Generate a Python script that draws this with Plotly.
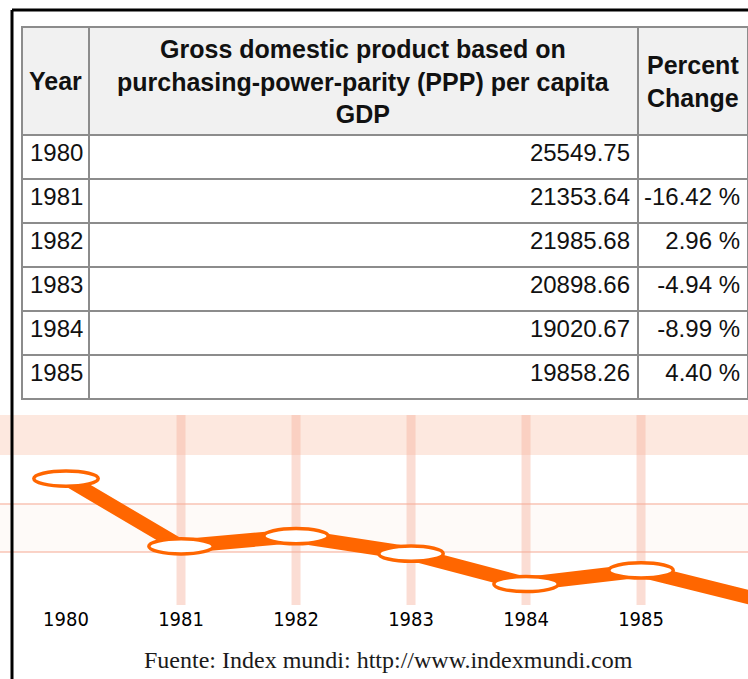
import plotly.graph_objects as go

# ---------------- data ----------------
years = [1980, 1981, 1982, 1983, 1984, 1985]
gdp_ppp = [25549.75, 21353.64, 21985.68, 20898.66, 19020.67, 19858.26]
gdp_text = ["25549.75", "21353.64", "21985.68", "20898.66", "19020.67", "19858.26"]
pct_change = ["", "-16.42\u00a0%", "2.96\u00a0%", "-4.94\u00a0%", "-8.99\u00a0%", "4.40\u00a0%"]
header_labels = [
    "<b>Year</b>",
    "<b>Gross domestic product based on<br>purchasing-power-parity (PPP) per capita<br>GDP</b>",
    "<b>Percent<br>Change</b>",
]
tick_labels = ["1980", "1981", "1982", "1983", "1984", "1985"]
# the chart line continues past the frame toward 1986
chart_years = years + [1986]
chart_values = gdp_ppp + [18090]
source_text = "Fuente: Index mundi: http://www.indexmundi.com"

# ---------------- layout constants ----------------
W, H = 748, 679
ORANGE = "#ff6600"
x_range = [1979.426, 1985.930]
y_range = [17718, 29485]
TABLE_LEFT = 22
COL_W = [67, 549, 110]
HEADER_TOP, HEADER_H = 27, 108

fig = go.Figure()

fig.add_trace(go.Table(
    domain=dict(x=[TABLE_LEFT / W, 1], y=[0.40, 1 - HEADER_TOP / H]),
    columnwidth=COL_W,
    header=dict(
        values=["", "", ""],
        fill_color="#f1f1f1",
        line=dict(color="#8c8c8c", width=1.5),
        height=HEADER_H,
    ),
    cells=dict(
        values=[[str(y) for y in years], gdp_text, pct_change],
        align=["left", "right", "right"],
        fill_color="white",
        line=dict(color="#8c8c8c", width=1.5),
        font=dict(family="Liberation Sans, Arial, sans-serif", size=24, color="#111111"),
        height=44,
    ),
))

fig.add_trace(go.Scatter(
    x=chart_years, y=chart_values, mode="lines",
    line=dict(color=ORANGE, width=14),
    hoverinfo="skip", showlegend=False,
))

shapes = []
# pale band at top of chart
shapes.append(dict(type="rect", xref="x domain", yref="y", x0=0, x1=1,
                   y0=27000, y1=y_range[1], fillcolor="rgba(252,222,210,0.7)",
                   line=dict(width=0), layer="below"))
shapes.append(dict(type="rect", xref="x domain", yref="y", x0=0, x1=1,
                   y0=21000, y1=24000, fillcolor="rgba(253,240,235,0.35)",
                   line=dict(width=0), layer="below"))
# vertical salmon bars
for yr in years[1:]:
    shapes.append(dict(type="line", xref="x", yref="y domain", x0=yr, x1=yr, y0=0, y1=1,
                       line=dict(color="rgba(247,180,160,0.45)", width=9), layer="below"))
# white ellipse markers
for yr, v in zip(years, gdp_ppp):
    shapes.append(dict(type="circle", xref="x", yref="y",
                       x0=yr - 0.28, x1=yr + 0.28, y0=v - 470, y1=v + 470,
                       fillcolor="white", line=dict(color=ORANGE, width=3.5), layer="above"))
# black frame
shapes.append(dict(type="line", xref="paper", yref="paper", x0=12 / W, x1=1,
                   y0=1 - 10 / H, y1=1 - 10 / H, line=dict(color="black", width=3)))
shapes.append(dict(type="line", xref="paper", yref="paper", x0=12 / W, x1=12 / W,
                   y0=0, y1=1 - 10 / H, line=dict(color="black", width=3)))

# header texts, each line centred in its column
annotations = []
left = TABLE_LEFT
for label, w in zip(header_labels, COL_W):
    annotations.append(dict(
        text=label, xref="paper", yref="paper",
        x=(left + w / 2) / W, y=1 - (HEADER_TOP + HEADER_H / 2) / H,
        xanchor="center", yanchor="middle", align="center", showarrow=False,
        font=dict(family="Liberation Sans, Arial, sans-serif", size=25, color="#111111"),
    ))
    left += w
annotations.append(dict(
    text=source_text, xref="paper", yref="paper", x=0.519, y=1 - 660 / H,
    showarrow=False, xanchor="center", yanchor="middle",
    font=dict(family="Liberation Serif, Times New Roman, serif", size=24, color="#1a1a1a")))

fig.update_layout(
    width=W, height=H,
    margin=dict(l=0, r=0, t=0, b=0),
    paper_bgcolor="white", plot_bgcolor="white",
    showlegend=False,
    shapes=shapes,
    annotations=annotations,
    xaxis=dict(domain=[0, 1], range=x_range, tickvals=years, ticktext=tick_labels,
               showgrid=False, zeroline=False, showline=False, ticks="",
               tickfont=dict(family="DejaVu Sans Condensed, Liberation Sans Narrow, Roboto, sans-serif",
                             size=20, color="#000000"), fixedrange=True),
    yaxis=dict(domain=[1 - 605 / H, 1 - 415 / H], range=y_range,
               tickvals=[21000, 24000], showticklabels=False,
               showgrid=True, gridcolor="rgba(245,175,155,0.55)", gridwidth=2,
               zeroline=False, showline=False, fixedrange=True),
)

fig.write_html("out.html", config={"displayModeBar": False},
               post_script="document.body.style.margin='0px';document.body.style.overflow='hidden';")
